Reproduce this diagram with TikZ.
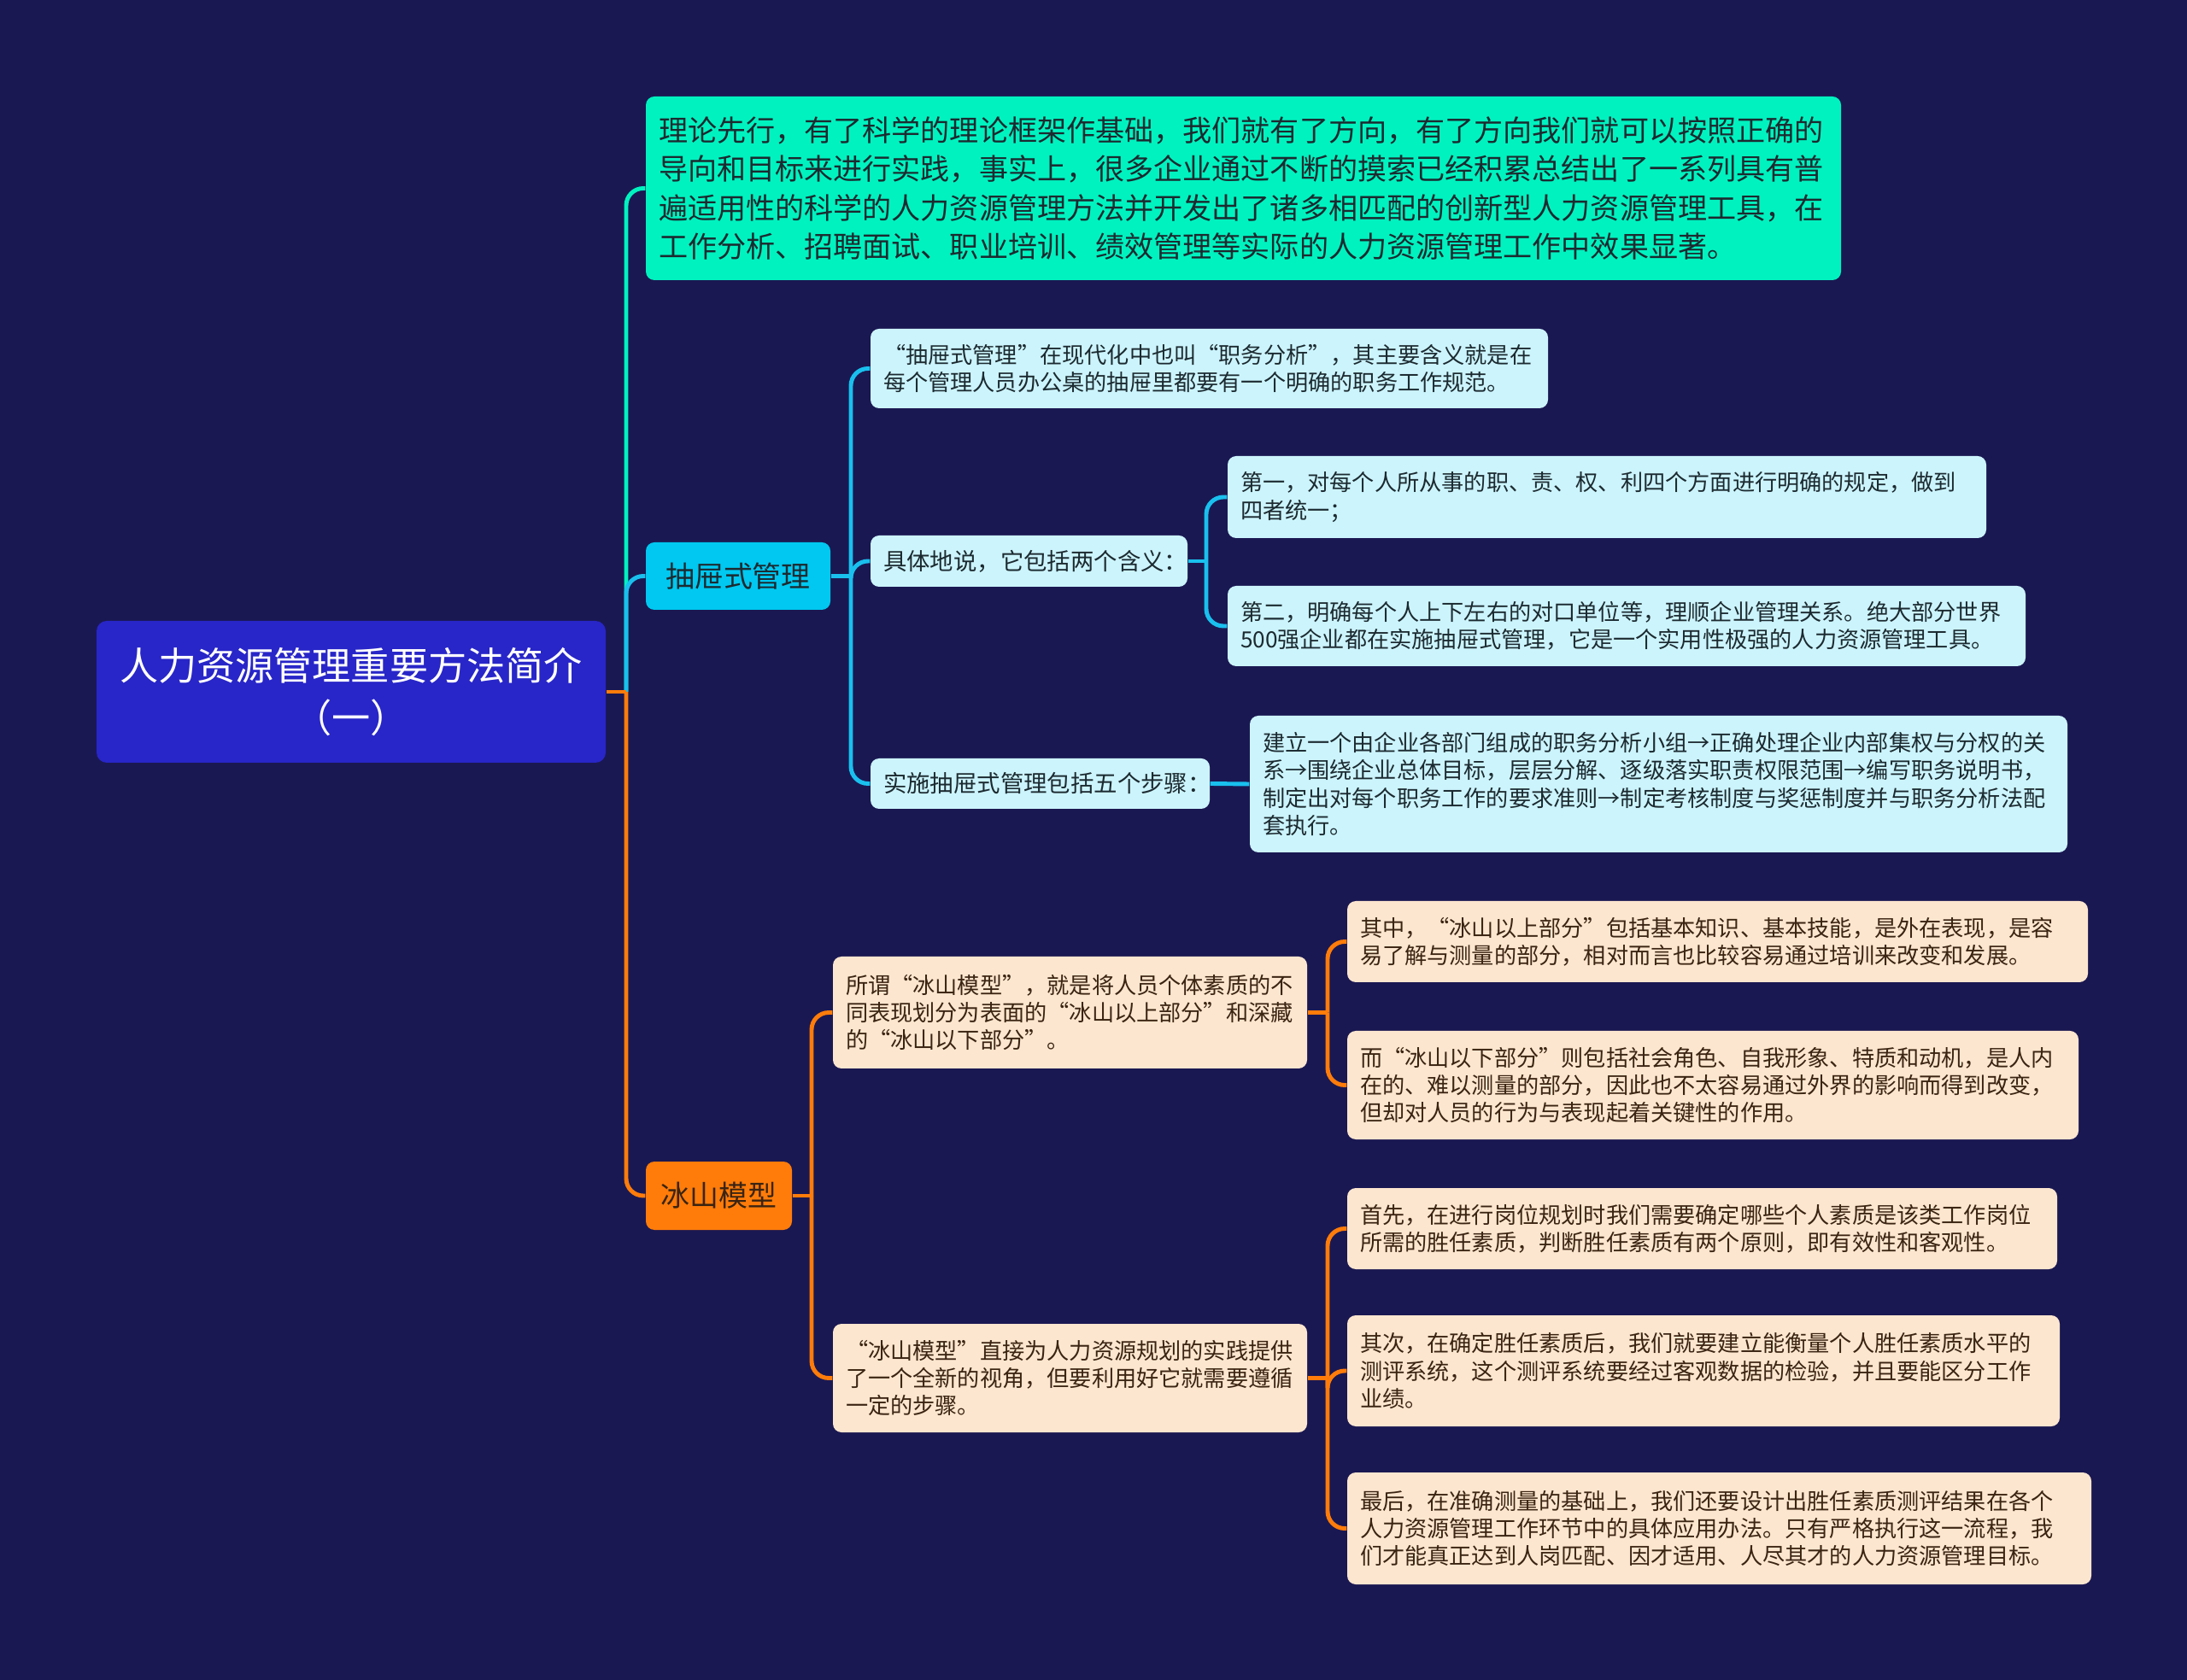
\documentclass[tikz,border=0pt]{standalone}
\usepackage{fontspec}
\setmainfont{Noto Sans CJK SC}
\usepackage{tikz}
\usetikzlibrary{calc}
\definecolor{cbg}{HTML}{1A1852}
\definecolor{croot}{HTML}{2826C8}
\definecolor{cteal}{HTML}{00F2BF}
\definecolor{ccyan}{HTML}{00C8F0}
\definecolor{clink}{HTML}{19C0EE}
\definecolor{corange}{HTML}{FF7C0A}
\definecolor{cpale}{HTML}{CCF4FC}
\definecolor{cpeach}{HTML}{FDE6CF}
\definecolor{cink}{HTML}{1C2A30}
\definecolor{cbrown}{HTML}{3A2412}
\tikzset{
  box/.style={rounded corners=1mm, inner xsep=1.5mm, inner ysep=0pt, align=left},
  rootn/.style={box, fill=croot, text=white, rounded corners=1.2mm, align=center, font=\fontsize{12.85}{17.2}\selectfont},
  topn/.style={box, fill=cteal, text=cink, font=\fontsize{9.7}{12.95}\selectfont},
  drawer/.style={box, fill=ccyan, text=cink, align=center, font=\fontsize{9.65}{12}\selectfont},
  iceb/.style={box, fill=corange, text=cbrown, align=center, font=\fontsize{9.65}{12}\selectfont},
  cleaf/.style={box, fill=cpale, text=cink, font=\fontsize{7.45}{9.2}\selectfont},
  oleaf/.style={box, fill=cpeach, text=cbrown, font=\fontsize{7.45}{9.2}\selectfont},
  link/.style={line width=1.4pt, rounded corners=2mm},
  tlink/.style={link, draw=cteal},
  clink/.style={link, draw=clink},
  olink/.style={link, draw=corange},
}
\begin{document}
\begin{tikzpicture}[x=1cm,y=1cm]
\fill[cbg] (0,0) rectangle (25.6,-19.67);
\useasboundingbox (0,0) rectangle (25.6,-19.67);
% main topic and first level
\node[rootn, minimum width=5.96cm, minimum height=1.66cm] (root) at (4.11,-8.10) {人力资源管理重要方法简介\\（一）};
\node[topn, text width=13.69cm, minimum height=2.15cm] (theory) at (14.555,-2.205) {理论先行，有了科学的理论框架作基础，我们就有了方向，有了方向我们就可以按照正确的\\导向和目标来进行实践，事实上，很多企业通过不断的摸索已经积累总结出了一系列具有普\\遍适用性的科学的人力资源管理方法并开发出了诸多相匹配的创新型人力资源管理工具，在\\工作分析、招聘面试、职业培训、绩效管理等实际的人力资源管理工作中效果显著。};
\node[drawer, minimum width=2.16cm, minimum height=0.79cm] (drawer) at (8.64,-6.745) {抽屉式管理};
\node[iceb, minimum width=1.71cm, minimum height=0.80cm] (ice) at (8.415,-14.00) {冰山模型};
% drawer branch
\node[cleaf, text width=7.63cm, minimum height=0.93cm] (d1) at (14.155,-4.315) {“抽屉式管理”在现代化中也叫“职务分析”，其主要含义就是在\\每个管理人员办公桌的抽屉里都要有一个明确的职务工作规范。};
\node[cleaf, text width=3.41cm, minimum height=0.60cm, font=\fontsize{7.8}{9.4}\selectfont] (d2) at (12.045,-6.57) {具体地说，它包括两个含义：};
\node[cleaf, text width=3.67cm, minimum height=0.59cm, font=\fontsize{7.8}{9.4}\selectfont] (d3) at (12.175,-9.175) {实施抽屉式管理包括五个步骤：};
\node[cleaf, text width=8.58cm, minimum height=0.96cm] (d21) at (18.81,-5.82) {第一，对每个人所从事的职、责、权、利四个方面进行明确的规定，做到\\四者统一；};
\node[cleaf, text width=9.04cm, minimum height=0.94cm] (d22) at (19.04,-7.33) {第二，明确每个人上下左右的对口单位等，理顺企业管理关系。绝大部分世界\\500强企业都在实施抽屉式管理，它是一个实用性极强的人力资源管理工具。};
\node[cleaf, text width=9.27cm, minimum height=1.60cm] (d31) at (19.415,-9.18) {建立一个由企业各部门组成的职务分析小组→正确处理企业内部集权与分权的关\\系→围绕企业总体目标，层层分解、逐级落实职责权限范围→编写职务说明书，\\制定出对每个职务工作的要求准则→制定考核制度与奖惩制度并与职务分析法配\\套执行。};
% iceberg branch
\node[oleaf, text width=5.25cm, minimum height=1.31cm] (i1) at (12.525,-11.855) {所谓“冰山模型”，就是将人员个体素质的不\\同表现划分为表面的“冰山以上部分”和深藏\\的“冰山以下部分”。};
\node[oleaf, text width=5.25cm, minimum height=1.27cm] (i2) at (12.525,-16.135) {“冰山模型”直接为人力资源规划的实践提供\\了一个全新的视角，但要利用好它就需要遵循\\一定的步骤。};
\node[oleaf, text width=8.37cm, minimum height=0.95cm] (i11) at (20.105,-11.025) {其中，“冰山以上部分”包括基本知识、基本技能，是外在表现，是容\\易了解与测量的部分，相对而言也比较容易通过培训来改变和发展。};
\node[oleaf, text width=8.26cm, minimum height=1.27cm] (i12) at (20.05,-12.705) {而“冰山以下部分”则包括社会角色、自我形象、特质和动机，是人内\\在的、难以测量的部分，因此也不太容易通过外界的影响而得到改变，\\但却对人员的行为与表现起着关键性的作用。};
\node[oleaf, text width=8.01cm, minimum height=0.95cm] (i21) at (19.925,-14.385) {首先，在进行岗位规划时我们需要确定哪些个人素质是该类工作岗位\\所需的胜任素质，判断胜任素质有两个原则，即有效性和客观性。};
\node[oleaf, text width=8.04cm, minimum height=1.30cm] (i22) at (19.94,-16.05) {其次，在确定胜任素质后，我们就要建立能衡量个人胜任素质水平的\\测评系统，这个测评系统要经过客观数据的检验，并且要能区分工作\\业绩。};
\node[oleaf, text width=8.41cm, minimum height=1.31cm] (i23) at (20.125,-17.895) {最后，在准确测量的基础上，我们还要设计出胜任素质测评结果在各个\\人力资源管理工作环节中的具体应用办法。只有严格执行这一流程，我\\们才能真正达到人岗匹配、因才适用、人尽其才的人力资源管理目标。};
% forks
\coordinate (rj) at (7.33,-8.10);
\coordinate (dj) at (9.96,-6.745);
\coordinate (d2j) at (14.12,-6.57);
\coordinate (ij) at (9.50,-14.00);
\coordinate (i1j) at (15.54,-11.855);
\coordinate (i2j) at (15.54,-16.135);
% connectors
\draw[tlink] (rj) |- (theory.west);
\draw[clink] (rj) |- (drawer.west);
\draw[olink] (rj) |- (ice.west);
\draw[olink] (root.east) -- (rj);
\draw[clink] (drawer.east) -- (dj);
\draw[clink] (dj) |- (d1.west); \draw[clink] (dj) |- (d2.west); \draw[clink] (dj) |- (d3.west);
\draw[clink] (d2.east) -- (d2j);
\draw[clink] (d2j) |- (d21.west); \draw[clink] (d2j) |- (d22.west);
\draw[clink] (d3.east) -- (d31.west);
\draw[olink] (ice.east) -- (ij);
\draw[olink] (ij) |- (i1.west); \draw[olink] (ij) |- (i2.west);
\draw[olink] (i1.east) -- (i1j);
\draw[olink] (i1j) |- (i11.west); \draw[olink] (i1j) |- (i12.west);
\draw[olink] (i2.east) -- (i2j);
\draw[olink] (i2j) |- (i21.west); \draw[olink] (i2j) |- (i22.west); \draw[olink] (i2j) |- (i23.west);
\end{tikzpicture}
\end{document}
